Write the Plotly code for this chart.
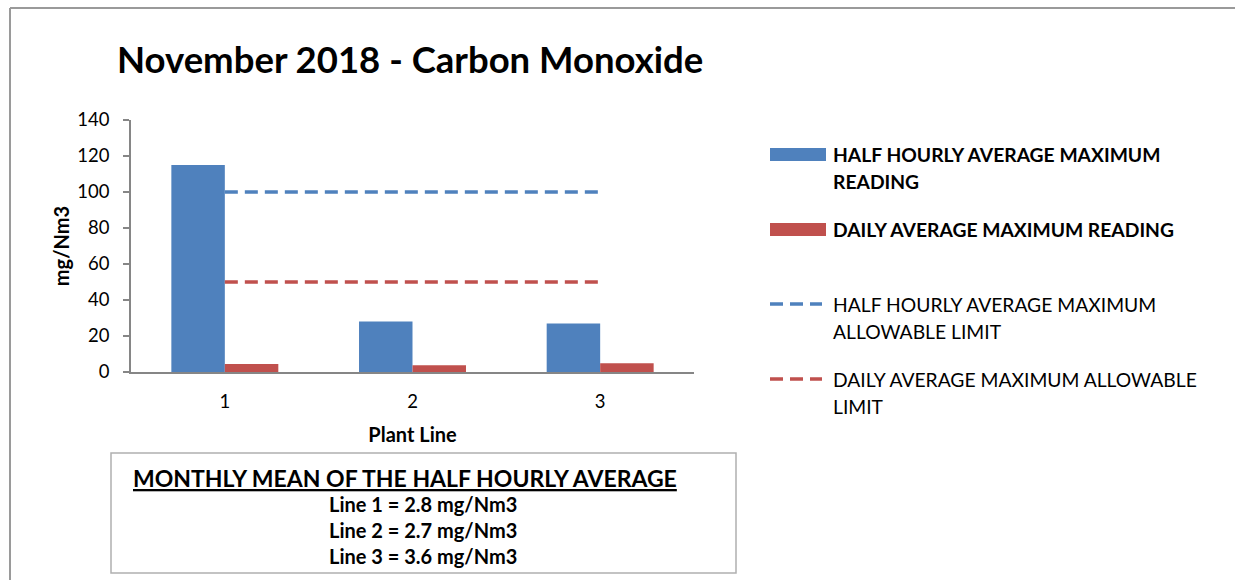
import plotly.graph_objects as go

# ---- data ----
plant_lines = ["1", "2", "3"]
half_hourly_max = [115, 28, 27]
daily_max = [4.4, 3.7, 4.8]
half_hourly_limit = [100, 100, 100]
daily_limit = [50, 50, 50]
y_ticks = [0, 20, 40, 60, 80, 100, 120, 140]
monthly_mean = [2.8, 2.7, 3.6]

BLUE = "#4F81BD"
RED = "#C0504D"
FONT = "Lato"

W, H = 1235, 580
L, R, T, B = 131, 694, 120, 372  # plot area in pixels


def px(x):
    return (x - L) / (R - L)


def py(y):
    return (B - y) / (B - T)


fig = go.Figure()
fig.add_trace(go.Bar(x=plant_lines, y=half_hourly_max, marker=dict(color=BLUE, line=dict(width=0)),
                     name="HALF HOURLY AVERAGE MAXIMUM READING", showlegend=False))
fig.add_trace(go.Bar(x=plant_lines, y=daily_max, marker=dict(color=RED, line=dict(width=0)),
                     name="DAILY AVERAGE MAXIMUM READING", showlegend=False))
fig.add_trace(go.Scatter(x=plant_lines, y=half_hourly_limit, mode="lines",
                         line=dict(color=BLUE, width=3.5, dash="13px,7px"),
                         name="HALF HOURLY AVERAGE MAXIMUM ALLOWABLE LIMIT", showlegend=False))
fig.add_trace(go.Scatter(x=plant_lines, y=daily_limit, mode="lines",
                         line=dict(color=RED, width=3.5, dash="13px,7px"),
                         name="DAILY AVERAGE MAXIMUM ALLOWABLE LIMIT", showlegend=False))

shapes = []
annotations = []

# outer chart border (top and left edges visible)
shapes.append(dict(type="line", xref="paper", yref="paper", x0=px(10), x1=px(1240), y0=py(8), y1=py(8),
                   line=dict(color="#9a9a9a", width=2)))
shapes.append(dict(type="line", xref="paper", yref="paper", x0=px(10), x1=px(10), y0=py(8), y1=py(585),
                   line=dict(color="#9a9a9a", width=2)))

# legend (manual)
leg_x0, leg_x1 = 770, 826
shapes.append(dict(type="rect", xref="paper", yref="paper", x0=px(leg_x0), x1=px(leg_x1), y0=py(161), y1=py(148),
                   fillcolor=BLUE, line=dict(width=0)))
shapes.append(dict(type="rect", xref="paper", yref="paper", x0=px(leg_x0), x1=px(leg_x1), y0=py(236), y1=py(223),
                   fillcolor=RED, line=dict(width=0)))
shapes.append(dict(type="line", xref="paper", yref="paper", x0=px(770), x1=px(822), y0=py(304), y1=py(304),
                   line=dict(color=BLUE, width=3.5, dash="13px,7px")))
shapes.append(dict(type="line", xref="paper", yref="paper", x0=px(770), x1=px(822), y0=py(379), y1=py(379),
                   line=dict(color=RED, width=3.5, dash="13px,7px")))

leg_lines = [
    ("<b>HALF HOURLY AVERAGE MAXIMUM</b>", 154),
    ("<b>READING</b>", 181),
    ("<b>DAILY AVERAGE MAXIMUM READING</b>", 229),
    ("HALF HOURLY AVERAGE MAXIMUM", 304),
    ("ALLOWABLE LIMIT", 331),
    ("DAILY AVERAGE MAXIMUM ALLOWABLE", 379),
    ("LIMIT", 406),
]
for txt, yy in leg_lines:
    annotations.append(dict(text=txt, xref="paper", yref="paper", x=px(831), y=py(yy), xanchor="left",
                            yanchor="middle", showarrow=False, font=dict(family=FONT, size=19.3, color="#000")))

# title
annotations.append(dict(text="<b>November 2018 - Carbon Monoxide</b>", xref="paper", yref="paper",
                        x=px(115), y=py(59), xanchor="left", yanchor="middle", showarrow=False,
                        font=dict(family=FONT, size=36.5, color="#000")))

# monthly mean box
shapes.append(dict(type="rect", xref="paper", yref="paper", x0=px(111), x1=px(736), y0=py(573), y1=py(453),
                   line=dict(color="#b0b0b0", width=1.5), fillcolor="rgba(0,0,0,0)"))
annotations.append(dict(text="<b><u>MONTHLY MEAN OF THE HALF HOURLY AVERAGE</u></b>", xref="paper", yref="paper",
                        x=px(405), y=py(478), xanchor="center", yanchor="middle", showarrow=False,
                        font=dict(family=FONT, size=23, color="#000")))
for i, (ln, v) in enumerate(zip(plant_lines, monthly_mean)):
    annotations.append(dict(text=f"<b>Line {ln} = {v} mg/Nm3</b>", xref="paper", yref="paper",
                            x=px(423), y=py(504 + 26 * i), xanchor="center", yanchor="middle", showarrow=False,
                            font=dict(family=FONT, size=20, color="#000")))

fig.update_layout(
    width=W, height=H, autosize=False,
    margin=dict(l=L, r=W - R, t=T, b=H - B, pad=0),
    paper_bgcolor="white", plot_bgcolor="white",
    barmode="group", bargap=0.43, bargroupgap=0,
    font=dict(family=FONT, size=18, color="#000"),
    showlegend=False,
    shapes=shapes, annotations=annotations,
    xaxis=dict(type="category", showline=True, linecolor="#868686", linewidth=1.5, ticks="",
               showgrid=False, zeroline=False, tickfont=dict(family=FONT, size=18.5), ticklabelstandoff=12,
               title=dict(text="<b>Plant Line</b>", font=dict(family=FONT, size=20), standoff=17)),
    yaxis=dict(range=[0, 140], tickvals=y_ticks, showline=True, linecolor="#868686", linewidth=1.5,
               ticks="outside", ticklen=6, tickcolor="#868686", tickwidth=1.5, showgrid=False, zeroline=False,
               tickfont=dict(family=FONT, size=18.5), ticklabelstandoff=10,
               title=dict(text="<b>mg/Nm3</b>", font=dict(family=FONT, size=20), standoff=2)),
)

fig.write_html("out.html", config={"displayModeBar": False},
               post_script="document.body.style.margin='0';")
